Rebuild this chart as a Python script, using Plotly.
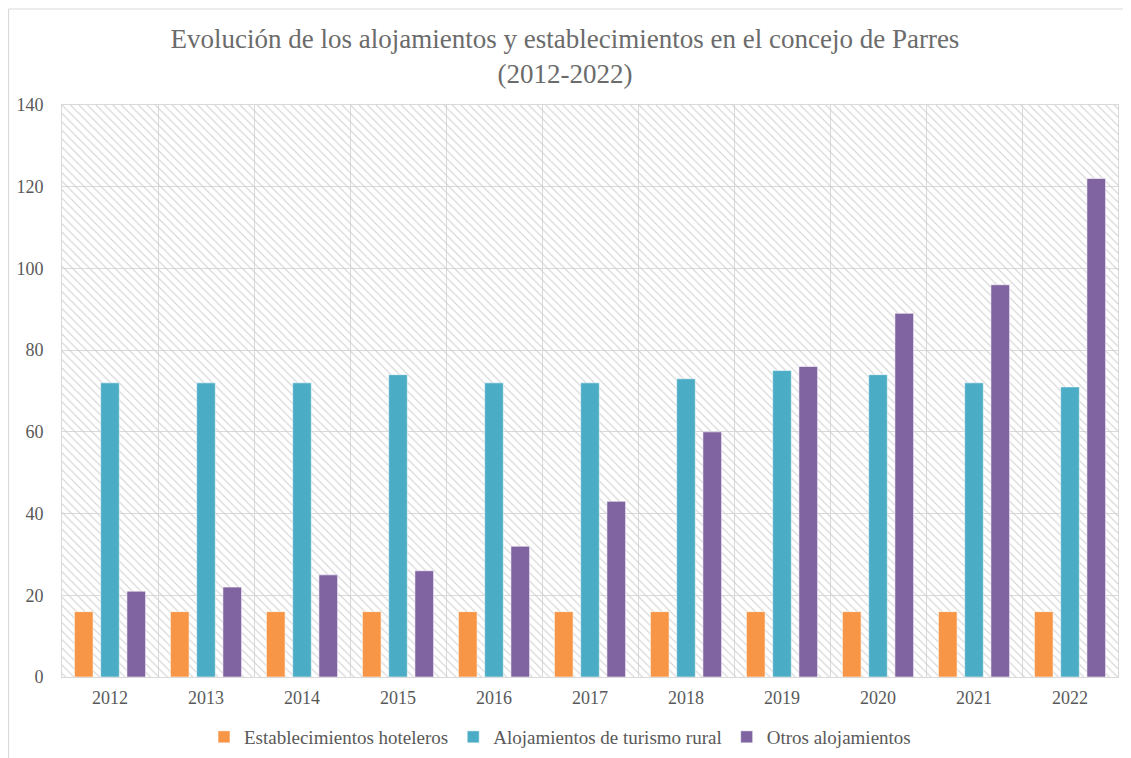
import plotly.graph_objects as go

years = ["2012", "2013", "2014", "2015", "2016", "2017", "2018", "2019", "2020", "2021", "2022"]
hoteleros = [16, 16, 16, 16, 16, 16, 16, 16, 16, 16, 16]
rural = [72, 72, 72, 74, 72, 72, 73, 75, 74, 72, 71]
otros = [21, 22, 25, 26, 32, 43, 60, 76, 89, 96, 122]
series_names = ["Establecimientos hoteleros", "Alojamientos de turismo rural", "Otros alojamientos"]
series_colors = ["#F79646", "#4BACC6", "#8064A2"]
y_max = 140

# the page body adds an 8px margin; figure is sized to fit the 1131x758 window
W, H = 1123, 750
L, R, T, B = 54, 13, 97, 81
pw, ph = W - L - R, H - T - B

font_family = "Liberation Serif, Times New Roman, serif"
txt = "#595959"
grid = "#d9d9d9"

fig = go.Figure()

# hatched plot-area background
fig.add_trace(go.Bar(
    x=[0.5], y=[y_max], width=[1], xaxis="x", yaxis="y",
    marker=dict(color="#d0d0d0", line=dict(width=0),
                pattern=dict(shape="\\", size=6, solidity=0.18, fillmode="replace")),
    showlegend=False, hoverinfo="skip",
))

for name, vals, col in zip(series_names, [hoteleros, rural, otros], series_colors):
    fig.add_trace(go.Bar(
        x=years, y=vals, name=name, xaxis="x2", yaxis="y",
        marker=dict(color=col, line=dict(color="rgba(255,255,255,0.55)", width=1)),
    ))

def px_x(p):
    return (p - L) / pw

def px_y(p):
    return (H - B - p) / ph

fig.update_layout(
    width=W, height=H,
    margin=dict(l=L, r=R, t=T, b=B, autoexpand=False),
    paper_bgcolor="white", plot_bgcolor="white",
    barmode="group", bargap=0.18, bargroupgap=0.29,
    font=dict(family=font_family, color=txt, size=18),
    title=dict(
        text="Evolución de los alojamientos y establecimientos en el concejo de Parres<br>(2012-2022)",
        x=557 / W, xanchor="center", xref="container", y=1 - 40 / H, yanchor="middle",
        font=dict(family=font_family, size=27, color="#6b6b6b"),
    ),
    xaxis=dict(range=[0, 1], visible=False, showgrid=False, fixedrange=True, automargin=False),
    xaxis2=dict(overlaying="x", anchor="y", side="bottom", type="category",
                tickson="boundaries", showgrid=True, gridcolor=grid, gridwidth=1,
                ticks="", showline=True, linecolor=grid, mirror=True,
                ticklabelstandoff=4, automargin=False,
                tickfont=dict(size=18, color=txt)),
    yaxis=dict(range=[0, y_max], dtick=20, showgrid=True, gridcolor=grid, gridwidth=1,
               zeroline=False, showline=True, linecolor=grid, mirror=True,
               ticks="", ticklabelstandoff=14, automargin=False,
               tickfont=dict(size=18, color=txt)),
    legend=dict(orientation="h", x=552 / W, xanchor="center", xref="container",
                y=1 - 729 / H, yanchor="middle", yref="container",
                font=dict(size=19, color=txt), itemwidth=30, tracegroupgap=0,
                bgcolor="rgba(0,0,0,0)"),
    shapes=[
        dict(type="line", xref="paper", yref="paper", x0=px_x(0.5), x1=px_x(1140),
             y0=px_y(1), y1=px_y(1), line=dict(color=grid, width=1.2)),
        dict(type="line", xref="paper", yref="paper", x0=px_x(0.5), x1=px_x(0.5),
             y0=px_y(1), y1=px_y(770), line=dict(color=grid, width=1.2)),
    ],
)

fig.write_html("out.html")
